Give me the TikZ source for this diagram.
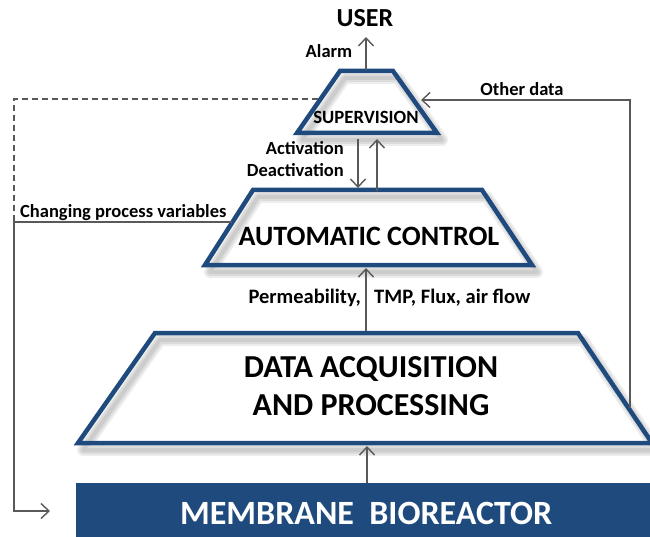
\documentclass[tikz,border=0pt]{standalone}
\usepackage{fontspec}
\setmainfont{Carlito}
\usetikzlibrary{arrows.meta}
\definecolor{mbblue}{HTML}{1F4A7E}
\definecolor{arrowgray}{HTML}{595959}
\newcommand\trapSup{(297,133) -- (437,133) -- (393,71) -- (340,71) -- cycle}
\newcommand\trapAC{(205,265) -- (532,265) -- (482,190) -- (253,190) -- cycle}
\newcommand\trapDA{(78,443) -- (652,443) -- (578,333) -- (155,333) -- cycle}
\begin{document}
\begin{tikzpicture}[x=1pt,y=-1pt,
  conn/.style={draw=arrowgray, line width=1.4pt},
  arr/.style={conn, -{Straight Barb[length=8pt,width=15pt,line width=1.4pt]}},
  layer/.style={draw=mbblue, line width=4.5pt, line join=miter},
  shd/.style={draw=black, line join=round, opacity=0.07, shift={(5,7)}},
  lbl/.style={font=\fontsize{18.5}{22}\selectfont\bfseries, text=black, inner sep=0pt},
  biglbl/.style={font=\fontsize{20.5}{24}\selectfont\bfseries, text=black, inner sep=0pt},
  big/.style={font=\fontsize{#1}{#1}\selectfont\bfseries, text=black, inner sep=0pt, align=center}
]
\fill[white] (0,0) rectangle (650,537);
\useasboundingbox (0,0) rectangle (650,537);

% shadows
\foreach \w in {12,8,4} {
  \draw[shd, line width=\w pt] \trapSup;
  \draw[shd, line width=\w pt] \trapAC;
  \draw[shd, line width=\w pt] \trapDA;
}

% layers
\draw[layer] \trapSup;
\draw[layer] \trapAC;
\draw[layer] \trapDA;

% bioreactor
\node[fill=mbblue, minimum width=580pt, minimum height=60pt, inner sep=0pt, anchor=north west,
      font=\fontsize{34}{40}\selectfont\bfseries, text=white] (mbr) at (76,483) {MEMBRANE\ \ BIOREACTOR};

% texts
\node[big=26] (user) at (365,18) {USER};
\node[big=18.7] (sup) at (366,117) {SUPERVISION};
\node[big=28] (ac) at (369,236) {AUTOMATIC CONTROL};
\node[big=32, font=\fontsize{32}{38}\selectfont\bfseries] (da) at (371,386) {DATA ACQUISITION\\AND PROCESSING};

\node[lbl] (alarm) at (329,51) {Alarm};
\node[lbl, align=right, anchor=east] (actdeact) at (344,159) {Activation\\Deactivation};
\node[lbl] (other) at (522,89) {Other data};
\node[lbl, anchor=west] (chg) at (20,213) {Changing process variables};
\node[biglbl, anchor=east] (perm) at (361,298) {Permeability,};
\node[biglbl, anchor=west] (tmp) at (374,298) {TMP, Flux, air flow};

% connector coordinates
\coordinate (supTop) at (366,70);
\coordinate (userBot) at (366,37);
\coordinate (supBotL) at (358,139);
\coordinate (supBotR) at (377,139);
\coordinate (acTopL) at (358,188);
\coordinate (acTopR) at (377,191);
\coordinate (acBot) at (366,268);
\coordinate (daTop) at (366,331);
\coordinate (daBot) at (367,446);
\coordinate (mbrTop) at (367,483);
\coordinate (daRight) at (630,408);
\coordinate (otherCorner) at (630,100);
\coordinate (supRight) at (421,100);
\coordinate (supLeft) at (318,99);
\coordinate (dashCorner) at (14,99);
\coordinate (acLeft) at (232,222);
\coordinate (leftJoin) at (14,222);
\coordinate (leftBot) at (14,511);
\coordinate (mbrLeft) at (50,511);

% connectors
\draw[arr] (supTop) -- (userBot);
\draw[arr] (supBotL) -- (acTopL);
\draw[arr] (acTopR) -- (supBotR);
\draw[arr] (daTop) -- (acBot);
\draw[arr] (mbrTop) -- (daBot);
\draw[arr] (daRight) -- (otherCorner) -- (supRight);
\draw[conn, dash pattern=on 6pt off 4pt] (supLeft) -- (dashCorner) -- (leftJoin);
\draw[arr] (acLeft) -- (leftJoin) -- (leftBot) -- (mbrLeft);
\end{tikzpicture}
\end{document}
